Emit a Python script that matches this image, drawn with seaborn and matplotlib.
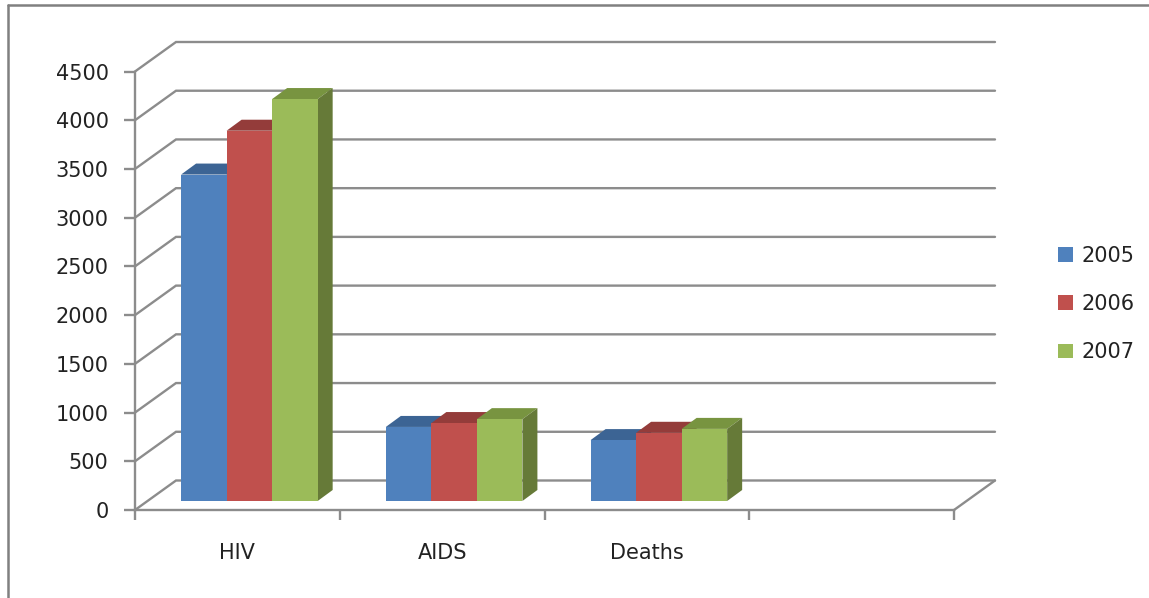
import matplotlib
matplotlib.use("Agg")
import matplotlib.pyplot as plt
from matplotlib.lines import Line2D
from matplotlib.patches import Patch, Polygon
import pandas as pd
import seaborn as sns

# Reported cases per year
categories = ["HIV", "AIDS", "Deaths"]
years = ["2005", "2006", "2007"]
values_2005 = [3350, 760, 625]
values_2006 = [3800, 800, 700]
values_2007 = [4125, 840, 740]
y_ticks = [0, 500, 1000, 1500, 2000, 2500, 3000, 3500, 4000, 4500]

front_colors = ["#4F81BD", "#C0504D", "#9BBB59"]
top_colors = ["#3C6494", "#943C3A", "#789440"]
side_colors = ["#33557E", "#7F3331", "#667A38"]
line_color = "#8C8C8C"

W, H = 1149, 598
PLOT_W, PLOT_H = 819, 438.5
Y_MAX = 4500
N_SLOTS = 4  # one empty slot stays on the right of the category axis

sns.set_theme(style="white")
plt.rcParams["font.family"] = ["DejaVu Sans"]
FS = 15
LW = 1.7


def rect(left, base):
    return [left / W, (H - base) / H, PLOT_W / W, PLOT_H / H]


def data_offset(dx_px, dy_px):
    return dx_px * N_SLOTS / PLOT_W, dy_px * Y_MAX / PLOT_H


fig = plt.figure(figsize=(W / 100, H / 100), dpi=100, facecolor="white")

# Outer frame: only the top and left edges fall inside the canvas
for xs, ys in (([8, W], [5, 5]), ([8, 8], [5, H])):
    fig.add_artist(Line2D([x / W for x in xs], [1 - y / H for y in ys],
                          color="#808080", lw=1.8, transform=fig.transFigure))

# Front plane: axes, ticks, and the floor/wall grid projected backwards
ax = fig.add_axes(rect(135, 510), facecolor="none", zorder=1)
ax.set_xlim(-0.5, N_SLOTS - 0.5)
ax.set_ylim(0, Y_MAX)
for side in ("top", "right"):
    ax.spines[side].set_visible(False)
for side in ("left", "bottom"):
    ax.spines[side].set_color(line_color)
    ax.spines[side].set_linewidth(LW)
ax.set_yticks(y_ticks, [str(t) for t in y_ticks])
ax.set_xticks([i - 0.5 for i in range(N_SLOTS + 1)], [""] * (N_SLOTS + 1))
ax.set_xticks(range(len(categories)), categories, minor=True)
ax.tick_params(axis="y", direction="out", length=8, width=LW, color=line_color,
               left=True, pad=11, labelsize=FS, labelcolor="#222222")
ax.tick_params(axis="x", which="major", direction="out", length=7, width=LW,
               color=line_color, bottom=True)
ax.tick_params(axis="x", which="minor", length=0, pad=24, labelsize=FS,
               labelcolor="#222222")

wall_dx, wall_dy = data_offset(41, 29.5)
x0, x1 = -0.5, N_SLOTS - 0.5
for t in y_ticks:
    ax.plot([x0, x0 + wall_dx, x1 + wall_dx], [t, t + wall_dy, t + wall_dy],
            color=line_color, lw=LW, clip_on=False, solid_joinstyle="miter")
ax.plot([x1, x1 + wall_dx], [0, wall_dy], color=line_color, lw=LW, clip_on=False)

# Bars stand a little behind the front plane
bar_ax = fig.add_axes(rect(147, 501), facecolor="none", zorder=2)
table = pd.DataFrame({
    "Category": categories * len(years),
    "Year": [y for y in years for _ in categories],
    "Value": values_2005 + values_2006 + values_2007,
})
sns.barplot(data=table, x="Category", y="Value", hue="Year",
            order=categories + [""], hue_order=years, palette=front_colors,
            width=0.667, saturation=1, linewidth=0, legend=False, ax=bar_ax)
bar_ax.set_xlim(-0.5, N_SLOTS - 0.5)
bar_ax.set_ylim(0, Y_MAX)
bar_ax.axis("off")

# Extrude every bar with a top and a side face
depth_x, depth_y = data_offset(15, 11)
for s, container in enumerate(bar_ax.containers):
    for bar in container:
        left, right = bar.get_x(), bar.get_x() + bar.get_width()
        top = bar.get_height()
        bar.set_zorder(10 + 2 * s)
        bar_ax.add_patch(Polygon(
            [(left, top), (right, top), (right + depth_x, top + depth_y),
             (left + depth_x, top + depth_y)],
            closed=True, facecolor=top_colors[s], lw=0, clip_on=False,
            zorder=9 + 2 * s))
        bar_ax.add_patch(Polygon(
            [(right, 0), (right + depth_x, depth_y),
             (right + depth_x, top + depth_y), (right, top)],
            closed=True, facecolor=side_colors[s], lw=0, clip_on=False,
            zorder=9 + 2 * s))

# Legend on the right
handles = [Patch(facecolor=c, edgecolor="none") for c in front_colors]
fig.legend(handles, years, loc="center left",
           bbox_to_anchor=(1058 / W, 1 - 304 / H), borderaxespad=0, borderpad=0,
           frameon=False, fontsize=FS, labelcolor="#222222",
           handlelength=0.72, handleheight=0.72, handletextpad=0.42,
           labelspacing=1.36)

fig.savefig("out.png", dpi=100, facecolor="white")
